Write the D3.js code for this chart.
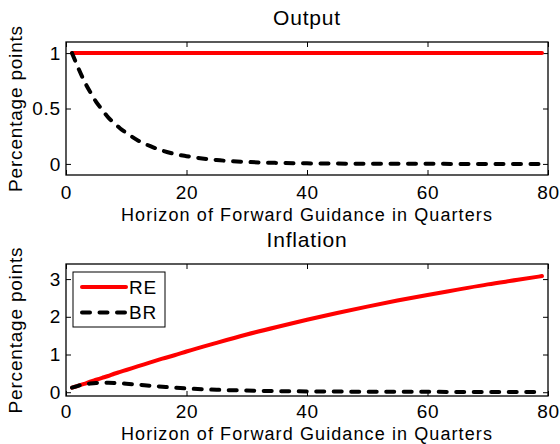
<!DOCTYPE html>
<html>
<head>
<meta charset="utf-8">
<script src="https://cdn.jsdelivr.net/npm/d3@7"></script>
<style>
  html, body { margin: 0; padding: 0; background: #fff; }
  svg { display: block; }
  text { font-family: "Liberation Sans", Arial, Helvetica, sans-serif; fill: #000; letter-spacing: 0.8px; }
  text.xlabel { letter-spacing: 1.1px; }
</style>
</head>
<body>
<svg id="chart" width="560" height="444"></svg>
<script>
// Horizon of forward guidance (quarters) at which each series is sampled
const horizon = [1, 2, 3, 4, 5, 6, 7, 8, 9, 10, 12, 14, 16, 18, 20, 25, 30, 35, 40, 45, 50, 55, 60, 65, 70, 75, 79];

// Output response, percentage points
const outputRE = [1, 1, 1, 1, 1, 1, 1, 1, 1, 1, 1, 1, 1, 1, 1, 1, 1, 1, 1, 1, 1, 1, 1, 1, 1, 1, 1];
const outputBR = [1.00, 0.87, 0.75, 0.65, 0.56, 0.49, 0.42, 0.37, 0.32, 0.28, 0.21, 0.16, 0.12, 0.09, 0.07,
                  0.035, 0.018, 0.009, 0.005, 0.003, 0.002, 0.001, 0.001, 0, 0, 0, 0];

// Inflation response, percentage points
const inflationRE = [0.12, 0.17, 0.22, 0.28, 0.33, 0.38, 0.43, 0.49, 0.54, 0.59, 0.69, 0.79, 0.89, 0.98, 1.08,
                     1.31, 1.53, 1.73, 1.92, 2.10, 2.27, 2.43, 2.58, 2.72, 2.86, 2.98, 3.08];
const inflationBR = [0.12, 0.17, 0.21, 0.23, 0.245, 0.25, 0.25, 0.245, 0.235, 0.225, 0.20, 0.17, 0.145, 0.12, 0.10,
                     0.065, 0.045, 0.03, 0.022, 0.017, 0.013, 0.011, 0.01, 0.009, 0.008, 0.008, 0.008];

// Axis ticks
const xTicks = [0, 20, 40, 60, 80];
const outputTicks = [0, 0.5, 1];
const inflationTicks = [0, 1, 2, 3];

const seriesNames = ["RE", "BR"];

const svg = d3.select("#chart");
const left = 66, right = 548;
const FS = 19;

const x = d3.scaleLinear().domain([0, 80]).range([left, right]);

const panels = [
  { title: "Output", top: 42, bottom: 175, yDomain: [-0.1, 1.1], yTicks: outputTicks,
    re: outputRE, br: outputBR, legend: false, tickPad: 11, xLabelGap: 46 },
  { title: "Inflation", top: 264, bottom: 396, yDomain: [-0.1, 3.4], yTicks: inflationTicks,
    re: inflationRE, br: inflationBR, legend: true, tickPad: 9, xLabelGap: 44 }
];

const reStyle = { stroke: "#ff0000", dash: null };
const brStyle = { stroke: "#000000", dash: "8,9.5" };

panels.forEach(p => {
  const y = d3.scaleLinear().domain(p.yDomain).range([p.bottom, p.top]);
  const g = svg.append("g");

  // axes background
  g.append("rect")
    .attr("x", left).attr("y", p.top)
    .attr("width", right - left).attr("height", p.bottom - p.top)
    .attr("fill", "#fff");

  const fmt = d => d3.format("~g")(d);

  // bottom axis with labels, inward ticks
  const xb = g.append("g").attr("transform", `translate(0,${p.bottom})`)
    .call(d3.axisBottom(x).tickValues(xTicks).tickSizeInner(-5).tickSizeOuter(0).tickPadding(p.tickPad).tickFormat(fmt));
  // top axis, ticks only
  const xt = g.append("g").attr("transform", `translate(0,${p.top})`)
    .call(d3.axisTop(x).tickValues(xTicks).tickSizeInner(-5).tickSizeOuter(0).tickFormat(""));
  // left axis with labels
  const yl = g.append("g").attr("transform", `translate(${left},0)`)
    .call(d3.axisLeft(y).tickValues(p.yTicks).tickSizeInner(-5).tickSizeOuter(0).tickPadding(5).tickFormat(fmt));
  // right axis, ticks only
  const yr = g.append("g").attr("transform", `translate(${right},0)`)
    .call(d3.axisRight(y).tickValues(p.yTicks).tickSizeInner(-5).tickSizeOuter(0).tickFormat(""));

  [xb, xt, yl, yr].forEach(a => {
    a.select(".domain").remove();
    a.selectAll("line").attr("stroke", "#000").attr("stroke-width", 1);
    a.selectAll("text").attr("font-size", FS).attr("font-family", null).attr("fill", "#000");
  });
  xb.attr("font-family", null).attr("font-size", null);
  yl.attr("font-family", null).attr("font-size", null);
  xt.selectAll("text").remove();
  yr.selectAll("text").remove();

  // series lines
  const line = vals => d3.line()
    .x((d, i) => x(horizon[i]))
    .y(d => y(d))
    .curve(d3.curveMonotoneX)(vals);

  g.append("path").attr("d", line(p.re))
    .attr("fill", "none").attr("stroke", reStyle.stroke)
    .attr("stroke-width", 4).attr("stroke-linecap", "round").attr("stroke-linejoin", "round");
  g.append("path").attr("d", line(p.br))
    .attr("fill", "none").attr("stroke", brStyle.stroke)
    .attr("stroke-width", 4).attr("stroke-dasharray", brStyle.dash)
    .attr("stroke-linecap", "round").attr("stroke-linejoin", "round");

  // frame
  g.append("rect")
    .attr("x", left).attr("y", p.top)
    .attr("width", right - left).attr("height", p.bottom - p.top)
    .attr("fill", "none").attr("stroke", "#000").attr("stroke-width", 1.3);

  // title
  g.append("text")
    .attr("x", (left + right) / 2).attr("y", p.top - 17)
    .attr("text-anchor", "middle").attr("font-size", 21)
    .text(p.title);

  // x label
  g.append("text")
    .attr("class", "xlabel")
    .attr("x", (left + right) / 2).attr("y", p.bottom + p.xLabelGap)
    .attr("text-anchor", "middle").attr("font-size", 18)
    .text("Horizon of Forward Guidance in Quarters");

  // y label
  g.append("text")
    .attr("transform", `translate(22,${(p.top + p.bottom) / 2}) rotate(-90)`)
    .attr("text-anchor", "middle").attr("font-size", FS)
    .text("Percentage points");

  // legend
  if (p.legend) {
    const lg = g.append("g");
    lg.append("rect")
      .attr("x", 73).attr("y", 272).attr("width", 92).attr("height", 55)
      .attr("fill", "#fff").attr("stroke", "#000").attr("stroke-width", 1);
    const styles = [reStyle, brStyle];
    seriesNames.forEach((name, i) => {
      const ly = 287 + i * 25.5;
      lg.append("line")
        .attr("x1", 82).attr("x2", 126).attr("y1", ly).attr("y2", ly)
        .attr("stroke", styles[i].stroke).attr("stroke-width", 4)
        .attr("stroke-dasharray", styles[i].dash).attr("stroke-linecap", "round");
      lg.append("text")
        .attr("x", 129).attr("y", ly).attr("dy", "0.36em")
        .attr("font-size", FS).text(name);
    });
  }
});
</script>
</body>
</html>
